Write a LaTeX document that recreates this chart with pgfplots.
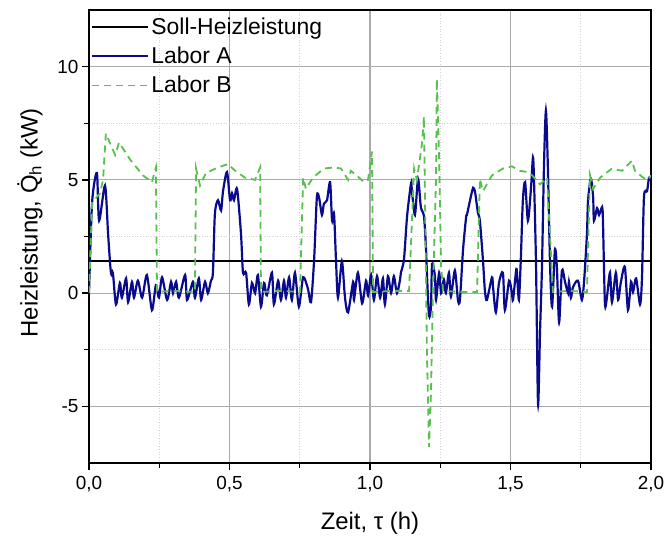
\documentclass[border=0pt]{standalone}
\usepackage{pgfplots}
\pgfplotsset{compat=1.18}
\usepackage{fontspec}
\setmainfont{Liberation Sans}

\definecolor{laborA}{RGB}{10,10,140}
\definecolor{laborB}{RGB}{88,192,78}
\definecolor{majgrid}{RGB}{170,170,170}
\definecolor{mingrid}{RGB}{210,210,210}

\begin{document}
\begin{tikzpicture}
% page frame: plot box of 562 x 453 bp with margins for labels
\path[use as bounding box] (-89bp,-76bp) rectangle (576bp,463bp);
\begin{axis}[
  at={(0,0)}, anchor=south west,
  scale only axis,
  width=562bp, height=453bp,
  xmin=0, xmax=2, ymin=-7.5, ymax=12.5,
  xtick={0,0.5,1,1.5,2},
  xticklabels={{0,0},{0,5},{1,0},{1,5},{2,0}},
  ytick={-5,0,5,10},
  yticklabels={-5,0,5,10},
  minor x tick num=1, minor y tick num=1,
  tick pos=left, tick align=outside,
  major tick length=7bp, minor tick length=5bp,
  every tick/.style={black, line width=1.3bp},
  axis line style={black, line width=1.8bp},
  grid=both,
  major grid style={majgrid, line width=1.1bp},
  minor grid style={mingrid, line width=0.7bp, dotted},
  tick label style={font=\fontsize{19}{22}\selectfont},
  xticklabel style={yshift=-3bp},
  label style={font=\fontsize{24}{28}\selectfont},
  xlabel={Zeit, τ (h)},
  ylabel={Heizleistung, \.{Q}\textsubscript{h} (kW)},
  xlabel style={at={(axis description cs:0.5,-0.133)}, anchor=center},
  ylabel style={at={(axis description cs:-0.105,0.53)}, anchor=center},
  legend style={draw=none, fill=none, at={(rel axis cs:0,1)}, anchor=north west,
    yshift=-3bp,
    font=\fontsize{23}{27}\selectfont, row sep=7bp,
    inner xsep=2bp, inner ysep=3bp},
  legend cell align=left,
  legend image code/.code={\draw[#1] (0bp,0bp) -- (52bp,0bp);
    \path (0bp,0bp) -- (56bp,0bp);},
]
% target heating power
\addplot[black, line width=2bp] coordinates {(0,1.4) (2,1.4)};
\addlegendentry{Soll-Heizleistung}

% measured heating power, lab A
\addplot[laborA, line width=2.2bp, smooth, tension=0.45] coordinates {
(0.000,0)(0.011,4.0)(0.028,5.3)(0.036,3.2)(0.057,4.75)(0.068,2.6)(0.078,0.9)(0.085,0.9)
(0.096,-0.5)(0.110,0.45)(0.117,-0.2)(0.132,0.65)(0.139,-0.4)(0.153,0.5)(0.160,-0.2)
(0.174,0.55)(0.189,-0.2)(0.206,0.8)(0.224,-0.75)(0.238,0.35)(0.249,-0.2)(0.260,0.7)
(0.278,-0.3)(0.292,0.5)(0.299,0)(0.310,0.5)(0.320,-0.2)(0.342,0.8)(0.349,-0.3)(0.370,0.5)
(0.377,-0.2)(0.391,0.65)(0.399,-0.3)(0.413,0.5)(0.423,0)(0.434,0.55)(0.441,0.9)(0.448,3.5)
(0.459,4.1)(0.470,3.65)(0.477,4.5)(0.491,5.35)(0.502,4.1)(0.509,4.4)(0.516,4.1)(0.527,4.6)
(0.541,2.6)(0.548,0.9)(0.559,0.9)(0.569,-0.5)(0.580,0.45)(0.591,0)(0.601,0.8)(0.612,-0.6)
(0.623,0.45)(0.633,-0.1)(0.651,0.9)(0.658,-0.5)(0.673,0.55)(0.683,-0.3)(0.694,0.55)
(0.701,-0.2)(0.712,0.7)(0.722,-0.3)(0.733,0.9)(0.747,-0.6)(0.762,0.7)(0.779,0.2)(0.790,-0.4)
(0.801,1.45)(0.811,4.25)(0.819,4.2)(0.829,3.45)(0.836,3.95)(0.847,4.1)(0.858,4.9)(0.865,3.2)
(0.872,3.5)(0.879,1.45)(0.886,-0.2)(0.900,1.4)(0.911,-0.2)(0.922,-0.85)(0.940,0.5)(0.943,-0.3)
(0.957,0.9)(0.972,-0.45)(0.986,0.55)(0.993,-0.1)(1.004,0.8)(1.014,-0.3)(1.025,0.75)
(1.036,-0.2)(1.046,0.65)(1.053,-0.5)(1.064,0.75)(1.075,0)(1.085,0.75)(1.096,0.0)(1.107,0.6)
(1.110,0.9)(1.121,1.5)(1.132,3.4)(1.146,4.85)(1.149,4.55)(1.160,3.45)(1.171,5.05)(1.181,3.8)
(1.192,3.4)(1.199,2.05)(1.203,0.75)(1.210,-1.0)(1.217,-0.6)(1.221,1.3)(1.231,0.75)
(1.235,-0.3)(1.246,0.9)(1.253,0)(1.263,0.6)(1.270,0)(1.281,0.9)(1.288,-0.15)(1.302,1.0)
(1.313,-0.3)(1.320,-0.3)(1.331,1.9)(1.342,3.35)(1.345,3.45)(1.356,4.1)(1.367,4.65)(1.374,4.45)
(1.384,3.55)(1.391,3.2)(1.402,1.45)(1.409,0.1)(1.416,-0.3)(1.434,0.7)(1.438,0.25)(1.448,-0.85)
(1.459,0.45)(1.473,0.9)(1.480,-0.75)(1.495,0.55)(1.505,0)(1.509,-0.3)(1.520,1.0)(1.523,0.9)
(1.530,-0.3)(1.537,1.6)(1.544,4.1)(1.552,4.9)(1.562,3.2)(1.573,4.65)(1.580,6.0)(1.584,4.85)
(1.591,1.15)(1.598,-4.9)(1.605,-1.75)(1.612,1.15)(1.619,5.55)(1.626,8.05)(1.633,5.55)
(1.641,1.15)(1.648,-0.6)(1.658,1.9)(1.665,1.15)(1.673,-1.3)(1.683,1.0)(1.694,0.5)(1.705,0)
(1.708,0.5)(1.715,-0.2)(1.722,0.25)(1.740,0.55)(1.754,-0.3)(1.762,0.55)(1.772,2.6)(1.776,4.1)
(1.786,5.05)(1.794,4.25)(1.797,3.2)(1.808,3.75)(1.815,3.45)(1.826,3.8)(1.829,3.2)(1.836,-0.45)
(1.843,-0.2)(1.854,0.9)(1.861,-0.4)(1.875,0.9)(1.883,-0.3)(1.893,0.5)(1.907,1.15)(1.918,-0.75)
(1.929,0.5)(1.936,0.05)(1.947,0.65)(1.961,-0.5)(1.968,0.7)(1.975,4.25)(1.986,4.5)(1.993,5.1)
(2.000,5.0)};
\addlegendentry{Labor A}

% measured heating power, lab B
\addplot[laborB, line width=1.8bp, dash pattern=on 7bp off 5bp] coordinates {
(0.000,0)(0.011,4.0)(0.039,4.4)(0.050,5.0)(0.060,7.05)(0.093,6.1)(0.107,6.65)(0.146,5.9)
(0.192,5.2)(0.224,4.9)(0.238,5.55)(0.242,0.05)(0.30,0.1)(0.377,0.05)
(0.381,5.5)(0.395,4.75)(0.416,5.3)(0.459,5.55)(0.495,5.7)(0.520,5.4)(0.555,5.1)(0.591,5.0)
(0.609,5.55)(0.612,0.05)(0.68,0.1)(0.751,0.05)
(0.762,5.1)(0.772,4.6)(0.797,5.1)(0.836,5.5)(0.872,5.55)(0.897,5.5)(0.922,5.0)(0.932,5.4)
(0.961,5.1)(0.979,4.9)(0.993,5.0)(1.007,6.25)(1.011,0.05)(1.08,0.1)(1.139,0.1)
(1.157,5.5)(1.167,5.0)(1.185,6.6)(1.192,7.8)(1.203,-2.9)(1.210,-6.8)(1.217,-4.4)(1.224,0)
(1.235,5.1)(1.238,9.45)(1.246,5.9)(1.253,1.2)(1.260,0.1)(1.32,0.05)(1.381,0.05)
(1.391,5.05)(1.402,4.5)(1.434,5.2)(1.473,5.5)(1.505,5.6)(1.534,5.4)(1.559,5.35)(1.577,5.2)
(1.605,4.8)(1.630,5.1)(1.651,0.05)(1.71,0.1)(1.772,0.05)
(1.783,5.2)(1.794,4.6)(1.819,5.1)(1.861,5.5)(1.897,5.4)(1.932,5.85)(1.943,5.4)(1.972,5.1)
(1.989,5.0)(2.000,5.2)};
\addlegendentry{Labor B}
\end{axis}
\end{tikzpicture}
\end{document}
